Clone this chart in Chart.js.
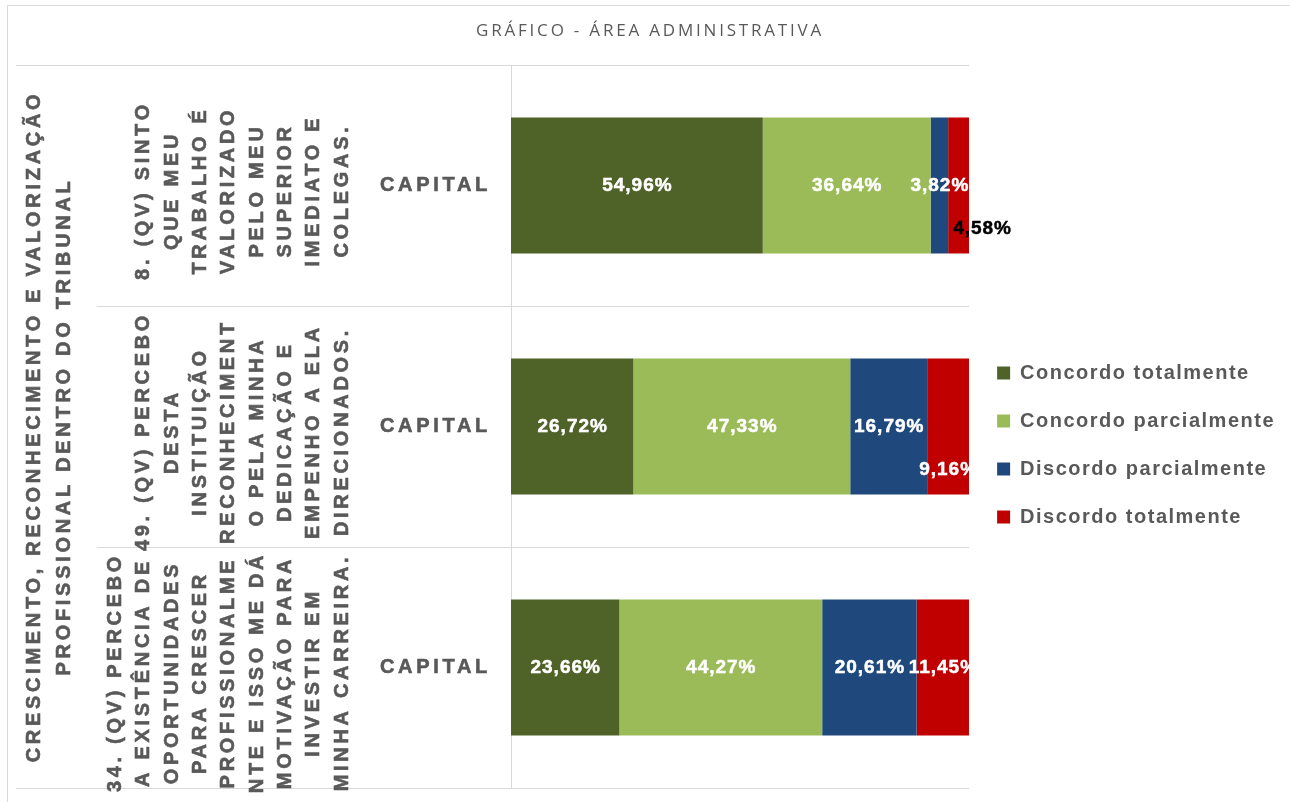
<!DOCTYPE html>
<html lang="pt-BR">
<head>
<meta charset="utf-8">
<title>Gráfico - Área Administrativa</title>
<script src="https://cdn.jsdelivr.net/npm/chart.js@4.4.1/dist/chart.umd.min.js"></script>
<style>
  html, body { margin: 0; padding: 0; background: #fff; }
  #wrap { width: 1290px; height: 802px; }
</style>
</head>
<body>
<div id="wrap"><canvas id="chart" width="1290" height="802"></canvas></div>
<script>
// chart text
const chartTitle = 'GRÁFICO - ÁREA ADMINISTRATIVA';
const groupLabel = ['CRESCIMENTO, RECONHECIMENTO E VALORIZAÇÃO', 'PROFISSIONAL DENTRO DO TRIBUNAL'];
const questions = [
  ['8. (QV) SINTO', 'QUE MEU', 'TRABALHO É', 'VALORIZADO', 'PELO MEU', 'SUPERIOR', 'IMEDIATO E', 'COLEGAS.'],
  ['49. (QV) PERCEBO', 'DESTA', 'INSTITUIÇÃO', 'RECONHECIMENT', 'O PELA MINHA', 'DEDICAÇÃO E', 'EMPENHO A ELA', 'DIRECIONADOS.'],
  ['34. (QV) PERCEBO', 'A EXISTÊNCIA DE', 'OPORTUNIDADES', 'PARA CRESCER', 'PROFISSIONALME', 'NTE E ISSO ME DÁ', 'MOTIVAÇÃO PARA', 'INVESTIR EM', 'MINHA CARREIRA.']
];
const categories = ['CAPITAL', 'CAPITAL', 'CAPITAL'];

// percentages per answer
const concordoTotal = [54.96, 26.72, 23.66];
const concordoParcial = [36.64, 47.33, 44.27];
const discordoParcial = [3.82, 16.79, 20.61];
const discordoTotal = [4.58, 9.16, 11.45];

const GRAY = '#595959';
const LINE = '#d9d9d9';
const AXIS_FONT = 'bold 20px "Liberation Sans"';

const fmt = v => v.toFixed(2).replace('.', ',') + '%';

// fill + thin stroke, the original text is quite heavy
function heavyText(ctx, text, x, y) {
  ctx.fillText(text, x, y);
  ctx.strokeText(text, x, y);
}

// frame, title and the two extra levels of the category axis
const decor = {
  id: 'decor',
  beforeLayout(chart) {
    chart.ctx.letterSpacing = '1.5px'; // legend text is a bit spaced out
  },
  beforeDraw(chart) {
    const ctx = chart.ctx;
    ctx.letterSpacing = '1.5px';
    ctx.save();
    ctx.strokeStyle = LINE;
    ctx.lineWidth = 1;
    ctx.strokeRect(7.5, 5.5, chart.width + 20, chart.height + 20);
    ctx.letterSpacing = '2.8px';
    ctx.fillStyle = GRAY;
    ctx.font = '17px "Open Sans"';
    ctx.textAlign = 'center';
    ctx.textBaseline = 'middle';
    ctx.fillText(chartTitle, 650, 31);
    ctx.restore();
  },
  afterDraw(chart) {
    const ctx = chart.ctx;
    const area = chart.chartArea;
    const y = chart.scales.y;
    ctx.save();

    // top and bottom separators go all the way left
    ctx.strokeStyle = LINE;
    ctx.lineWidth = 1;
    ctx.beginPath();
    [area.top, area.bottom].forEach(v => {
      const py = Math.round(v) + 0.5;
      ctx.moveTo(16, py);
      ctx.lineTo(100, py);
    });
    ctx.stroke();

    ctx.fillStyle = GRAY;
    ctx.strokeStyle = GRAY;
    ctx.lineWidth = 0.6;
    ctx.font = AXIS_FONT;
    ctx.letterSpacing = '3.7px';
    ctx.textBaseline = 'middle';

    // inner level: CAPITAL
    ctx.textAlign = 'right';
    categories.forEach((c, i) => {
      heavyText(ctx, c, area.left - 20, y.getPixelForValue(i));
    });

    // middle level: question text, rotated
    ctx.textAlign = 'center';
    questions.forEach((lines, i) => {
      const cy = y.getPixelForValue(i) + 5;
      lines.forEach((t, j) => {
        const x = area.left - 169 - (lines.length - 1 - j) * 28.3;
        ctx.save();
        ctx.translate(x, cy);
        ctx.rotate(-Math.PI / 2);
        heavyText(ctx, t, 0, 0);
        ctx.restore();
      });
    });

    // outer level: group
    const gy = (area.top + area.bottom) / 2;
    groupLabel.forEach((t, j) => {
      ctx.save();
      ctx.translate(34 + j * 30, gy);
      ctx.rotate(-Math.PI / 2);
      heavyText(ctx, t, 0, 0);
      ctx.restore();
    });
    ctx.restore();
  }
};

// value labels inside the bars
const valueLabels = {
  id: 'valueLabels',
  afterDatasetsDraw(chart) {
    const ctx = chart.ctx;
    const area = chart.chartArea;
    ctx.save();
    ctx.font = 'bold 19px "Liberation Sans"';
    ctx.letterSpacing = '1px';
    ctx.lineWidth = 0.5;
    ctx.textAlign = 'center';
    ctx.textBaseline = 'middle';
    chart.data.labels.forEach((_, i) => {
      let prevRight = -Infinity;
      chart.data.datasets.forEach((ds, d) => {
        const bar = chart.getDatasetMeta(d).data[i];
        const text = fmt(ds.data[i]);
        const w = ctx.measureText(text).width - 1;
        const segW = bar.x - bar.base;
        let x = (bar.x + bar.base) / 2;
        let ty = bar.y;
        let color = '#fff';
        if (x - w / 2 < prevRight) {
          // would overlap the previous label: drop it below
          ty += 43;
          if (w > 2 * segW) {
            x = bar.base + 5 + w / 2;
            color = '#000';
          }
        }
        ctx.save();
        if (color === '#fff') {
          ctx.beginPath();
          ctx.rect(area.left, area.top, area.right - area.left, area.bottom - area.top);
          ctx.clip();
        }
        ctx.fillStyle = color;
        ctx.strokeStyle = color;
        heavyText(ctx, text, x + 0.5, ty);
        ctx.restore();
        prevRight = x + w / 2;
      });
    });
    ctx.restore();
  }
};

new Chart(document.getElementById('chart'), {
  type: 'bar',
  data: {
    labels: categories,
    datasets: [
      { label: 'Concordo totalmente', data: concordoTotal, backgroundColor: '#4F6228' },
      { label: 'Concordo parcialmente', data: concordoParcial, backgroundColor: '#9BBB59' },
      { label: 'Discordo parcialmente', data: discordoParcial, backgroundColor: '#1F497D' },
      { label: 'Discordo totalmente', data: discordoTotal, backgroundColor: '#C00000' }
    ]
  },
  options: {
    indexAxis: 'y',
    responsive: false,
    animation: false,
    categoryPercentage: 0.564,
    barPercentage: 1,
    borderWidth: 0,
    layout: { padding: { top: 65, bottom: 14, left: 0, right: 5 } },
    scales: {
      x: { stacked: true, min: 0, max: 100, display: false },
      y: {
        stacked: true,
        offset: true,
        grid: { offset: true, color: LINE, tickLength: 414 },
        border: { display: true, color: LINE },
        ticks: { display: false },
        afterFit(scale) { scale.width = 511; }
      }
    },
    plugins: {
      legend: {
        position: 'right',
        title: { display: true, text: '', font: { size: 10 }, padding: { top: 25, bottom: 0 } },
        labels: {
          boxWidth: 13,
          boxHeight: 13,
          padding: 28,
          color: GRAY,
          font: { family: 'Liberation Sans', size: 20, weight: 'bold' }
        }
      },
      tooltip: { enabled: false }
    }
  },
  plugins: [decor, valueLabels]
});
</script>
</body>
</html>
